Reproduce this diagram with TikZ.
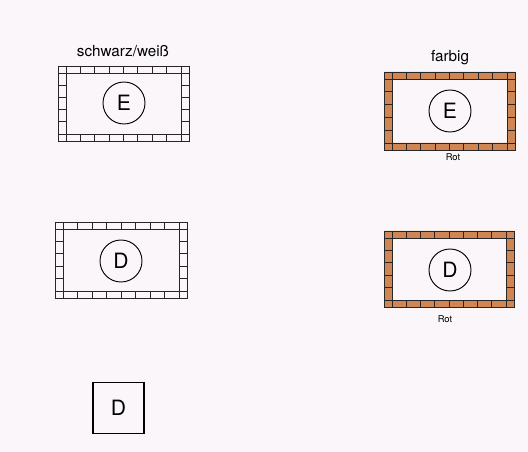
\documentclass[tikz,border=0pt]{standalone}
\usepackage{fontspec}
\setmainfont{TeX Gyre Heros}
\definecolor{ziegel}{RGB}{208,134,84}
\definecolor{papier}{RGB}{250,246,249}

% Mauerrahmen: #1,#2 oben links, #3,#4 unten rechts, #5 Fuellung
\newcommand\wallframe[5]{%
  \fill[#5, even odd rule] (#1,#2) rectangle (#3,#4) (#1+8,#2+7) rectangle (#3-8,#4-7);
  \draw[wall] (#1,#2) rectangle (#3,#4);
  \draw[wall] (#1+8,#2) -- (#1+8,#4) (#3-8,#2) -- (#3-8,#4)
              (#1,#2+7) -- (#3,#2+7) (#1,#4-7) -- (#3,#4-7);
  \foreach \i in {1,...,7}
    \draw[wall] ({#1+8+\i*(#3-#1-16)/8},#2) -- ++(0,7)
                ({#1+8+\i*(#3-#1-16)/8},#4) -- ++(0,-7);
  \foreach \j in {1,...,4}
    \draw[wall] (#1,{#2+7+\j*(#4-#2-14)/5}) -- ++(8,0)
                (#3,{#2+7+\j*(#4-#2-14)/5}) -- ++(-8,0);
}

\begin{document}
\begin{tikzpicture}[
    x=0.03cm, y=-0.03cm,
    wall/.style={line width=0.8pt, black!85},
    kreis/.style={draw, circle, line width=0.8pt, minimum size=1.26cm, inner sep=0pt, font=\fontsize{18}{20}\selectfont},
    schild/.style={draw, rectangle, line width=1pt, minimum size=1.53cm, font=\fontsize{18}{20}\selectfont},
    titel/.style={font=\fontsize{13}{15}\selectfont},
    vermerk/.style={font=\fontsize{8}{10}\selectfont}
]
\fill[papier] (0,0) rectangle (528,452);
\useasboundingbox (0,0) rectangle (528,452);

% Ueberschriften
\node[titel] (sw) at (123,51) {schwarz/weiß};
\node[titel] (farbig) at (450,58) {farbig};

% Rahmen schwarz/weiss
\wallframe{58}{66}{189}{141}{papier}
\node[kreis] (swE) at (124,103) {E};
\wallframe{55}{222}{187}{298}{papier}
\node[kreis] (swD) at (121,261) {D};

% Rahmen farbig
\wallframe{384}{72}{515}{150}{ziegel}
\node[kreis] (fE) at (450,111) {E};
\node[vermerk] (rotE) at (453,157) {Rot};
\wallframe{384}{231}{514}{307}{ziegel}
\node[kreis] (fD) at (450,270) {D};
\node[vermerk] (rotD) at (445,319) {Rot};

% Kleines Schild
\node[schild] (kleinD) at (118.5,408) {D};

\end{tikzpicture}
\end{document}
